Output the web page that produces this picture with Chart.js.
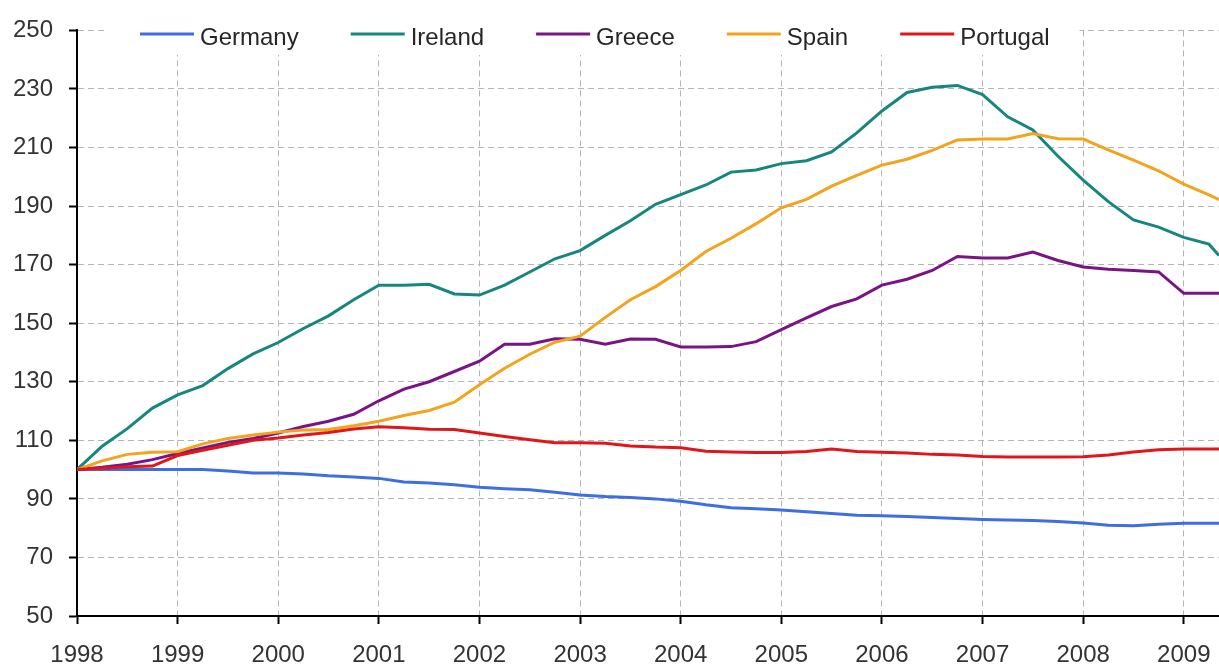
<!DOCTYPE html>
<html>
<head>
<meta charset="utf-8">
<title>House prices 1998-2009</title>
<script src="https://cdn.jsdelivr.net/npm/chart.js@4.4.1/dist/chart.umd.min.js"></script>
<style>
  html, body { margin: 0; padding: 0; background: #fff; overflow: hidden; }
  canvas { display: block; }
</style>
</head>
<body>
<canvas id="priceChart" width="1219" height="672"></canvas>
<script>
// ============================================================
// Data (index, 1998 = 100), quarterly readings
// ============================================================

const quarters = [
  1998.00, 1998.25, 1998.50, 1998.75,
  1999.00, 1999.25, 1999.50, 1999.75,
  2000.00, 2000.25, 2000.50, 2000.75,
  2001.00, 2001.25, 2001.50, 2001.75,
  2002.00, 2002.25, 2002.50, 2002.75,
  2003.00, 2003.25, 2003.50, 2003.75,
  2004.00, 2004.25, 2004.50, 2004.75,
  2005.00, 2005.25, 2005.50, 2005.75,
  2006.00, 2006.25, 2006.50, 2006.75,
  2007.00, 2007.25, 2007.50, 2007.75,
  2008.00, 2008.25, 2008.50, 2008.75,
  2009.00, 2009.25, 2009.35
];

const germany = [
  100, 100, 100, 100,
  100, 100, 99.5, 98.8,
  98.8, 98.5, 97.9, 97.5,
  97, 95.8, 95.4, 94.8,
  94, 93.5, 93.1, 92.3,
  91.3, 90.8, 90.5, 90,
  89.2, 88, 87, 86.6,
  86.2, 85.6, 85, 84.4,
  84.2, 84, 83.6, 83.3,
  83, 82.8, 82.6, 82.3,
  81.8, 81, 80.8, 81.3,
  81.7, 81.7, 81.7
];

const ireland = [
  100, 108, 114, 121,
  125.5, 128.7, 134.5, 139.5,
  143.4, 148.2, 152.5, 158,
  163, 163, 163.3, 160,
  159.6, 163, 167.5, 172,
  174.8, 180, 185, 190.6,
  193.9, 197.2, 201.6, 202.3,
  204.5, 205.5, 208.5, 215,
  222.5, 228.8, 230.6, 231.2,
  228.1, 220.5, 216, 207,
  198.9, 191.5, 185.3, 182.8,
  179.3, 177, 173.1
];

const greece = [
  100, 100.8, 101.8, 103.4,
  105.5, 107.4, 109.3, 110.6,
  112.5, 114.7, 116.5, 118.9,
  123.5, 127.5, 130, 133.5,
  137, 142.8, 142.8, 144.7,
  144.5, 142.8, 144.6, 144.5,
  141.9, 141.9, 142, 143.7,
  147.8, 151.8, 155.7, 158.3,
  163, 165, 168, 172.8,
  172.3, 172.3, 174.3, 171.4,
  169.2, 168.4, 168, 167.5,
  160.2, 160.2, 160.2
];

const spain = [
  100, 103, 105.2, 105.9,
  106.1, 108.8, 110.6, 111.8,
  112.8, 113.5, 113.7, 115,
  116.5, 118.5, 120.2, 123,
  129, 134.6, 139.4, 143.5,
  145.6, 152, 158, 162.5,
  168, 174.5, 179, 184,
  189.4, 192.3, 196.8, 200.5,
  204, 206, 209, 212.6,
  212.9, 212.9, 214.8, 213,
  212.9, 209.2, 205.7, 202,
  197.5, 193.8, 192.2
];

const portugal = [
  100, 100.5, 101, 101.2,
  104.8, 106.6, 108.3, 110,
  110.8, 111.8, 112.7, 113.9,
  114.6, 114.3, 113.8, 113.7,
  112.5, 111.3, 110.2, 109.2,
  109.2, 109, 108.1, 107.7,
  107.5, 106.3, 106, 105.8,
  105.8, 106.2, 107, 106.2,
  105.9, 105.7, 105.2, 105,
  104.5, 104.3, 104.3, 104.3,
  104.4, 105, 106, 106.8,
  107, 107, 107
];

const countries = ['Germany', 'Ireland', 'Greece', 'Spain', 'Portugal'];
const seriesColors = ['#3d6ee3', '#16877c', '#7a1486', '#f4a31d', '#e1161b'];
const yearTicks = [1998, 1999, 2000, 2001, 2002, 2003, 2004, 2005, 2006, 2007, 2008, 2009];
const valueTicks = [50, 70, 90, 110, 130, 150, 170, 190, 210, 230, 250];

// ============================================================
// Helpers
// ============================================================

const FONT = '"Liberation Sans", Arial, sans-serif';

function toPoints(values) {
  return values.map((v, i) => ({ x: quarters[i], y: v }));
}

/**
 * Legend drawn inside the plot, on a white band over the top gridlines
 */
const insideLegend = {
  id: 'insideLegend',
  afterDraw(chart) {
    const ctx = chart.ctx;
    const sets = chart.data.datasets;
    ctx.save();
    ctx.font = '24px ' + FONT;

    // measure first so the white band fits the items
    const startX = 140;
    const lineLen = 54;
    const textGap = 6;
    const itemGap = 52;
    let x = startX;
    const items = sets.map(ds => {
      const w = ctx.measureText(ds.label).width;
      const item = { x, w, ds };
      x += lineLen + textGap + w + itemGap;
      return item;
    });
    const endX = x - itemGap;

    ctx.fillStyle = '#fff';
    ctx.fillRect(startX - 33, 0, endX - startX + 63, 55);

    const lineY = 34;
    items.forEach(it => {
      ctx.strokeStyle = it.ds.borderColor;
      ctx.lineWidth = 3;
      ctx.beginPath();
      ctx.moveTo(it.x, lineY);
      ctx.lineTo(it.x + lineLen, lineY);
      ctx.stroke();
      ctx.fillStyle = '#262626';
      ctx.textBaseline = 'alphabetic';
      ctx.fillText(it.ds.label, it.x + lineLen + textGap, 45);
    });
    ctx.restore();
  }
};

// ============================================================
// Chart
// ============================================================

const allSeries = [germany, ireland, greece, spain, portugal];
const drawOrder = [4, 3, 2, 1, 0];

const ctx = document.getElementById('priceChart').getContext('2d');

new Chart(ctx, {
  type: 'line',
  data: {
    datasets: countries.map((name, i) => ({
      label: name,
      data: toPoints(allSeries[i]),
      borderColor: seriesColors[i],
      backgroundColor: seriesColors[i],
      borderWidth: 3,
      pointRadius: 0,
      tension: 0,
      order: drawOrder[i]
    }))
  },
  options: {
    responsive: false,
    animation: false,
    devicePixelRatio: 1,
    layout: { padding: { top: 22, right: 0, bottom: 0, left: 0 } },
    plugins: {
      legend: { display: false },
      tooltip: { enabled: false }
    },
    scales: {
      x: {
        type: 'linear',
        min: 1998,
        max: 2009.35,
        afterBuildTicks: s => { s.ticks = yearTicks.map(v => ({ value: v })); },
        afterFit: s => { s.height = 56; s.paddingLeft = 0; s.paddingRight = 0; },
        grid: { color: '#b4b4b4', lineWidth: 1, tickColor: '#000', tickLength: 8, tickWidth: 2 },
        border: { color: '#000', width: 2, dash: [6, 4] },
        ticks: {
          color: '#333',
          font: { size: 24, family: FONT },
          padding: 17,
          maxRotation: 0,
          autoSkip: false,
          callback: v => String(v)
        }
      },
      y: {
        min: 50,
        max: 250,
        afterBuildTicks: s => { s.ticks = valueTicks.map(v => ({ value: v })); },
        afterFit: s => { s.width = 77; },
        grid: { color: '#b4b4b4', lineWidth: 1, tickColor: '#000', tickLength: 8, tickWidth: 2 },
        border: { color: '#000', width: 2, dash: [6, 4] },
        ticks: {
          color: '#333',
          font: { size: 24, family: FONT },
          padding: 16,
          callback: v => String(v)
        }
      }
    }
  },
  plugins: [insideLegend]
});
</script>
</body>
</html>
